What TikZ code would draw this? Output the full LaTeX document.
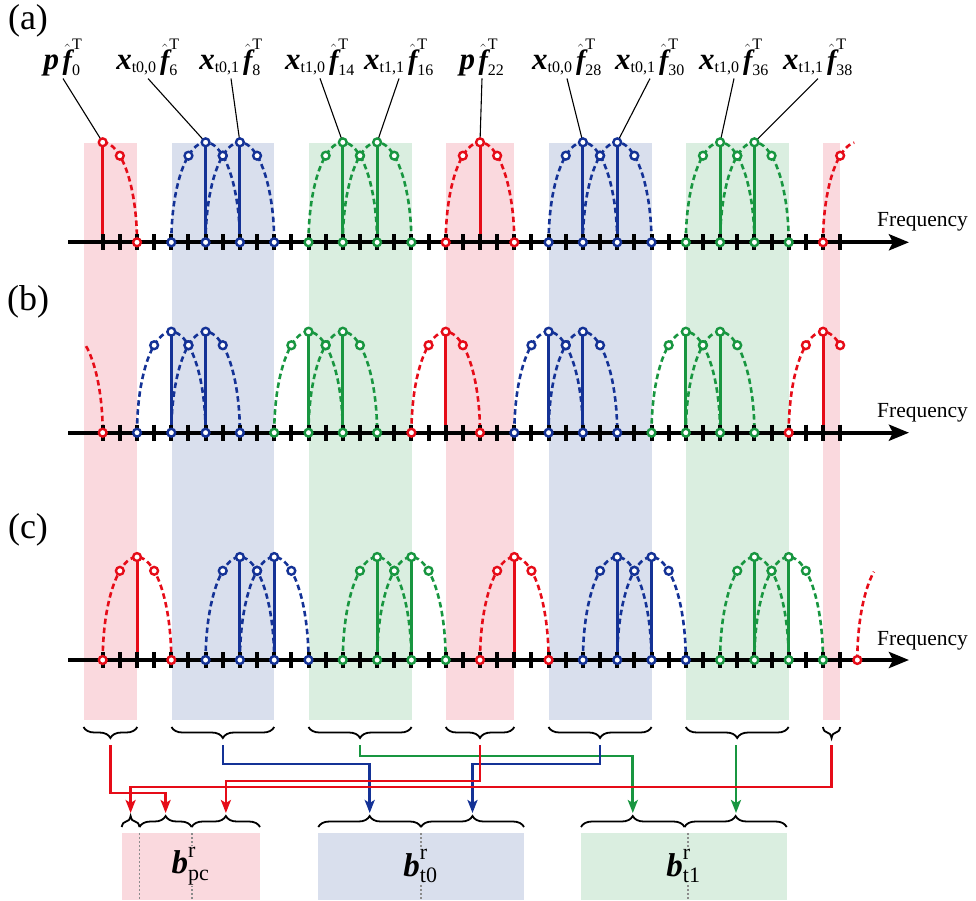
\documentclass[tikz,border=0pt]{standalone}
\usepackage[no-math]{fontspec}
\usepackage{amsmath}
\setmainfont{Liberation Serif}
\usetikzlibrary{arrows.meta,decorations.pathreplacing}
\definecolor{cR}{RGB}{230,12,24}
\definecolor{cB}{RGB}{20,50,150}
\definecolor{cG}{RGB}{24,150,64}
\definecolor{sR}{RGB}{250,217,222}
\definecolor{sB}{RGB}{217,223,237}
\definecolor{sG}{RGB}{218,238,224}
\definecolor{dotgray}{RGB}{140,140,140}

\newcommand\XX[1]{(102.7+17.15*(#1))}
\newcommand\lobe[6]{\draw[lobeline,#1] plot[domain=#5:#6,samples=40,variable=\ang] ({\XX{#2}+34.3*cos(\ang)},{#3+#4*sin(\ang)});}
\newcommand\stem[4]{\draw[stemline,#1] ({\XX{#2}},#3) -- ({\XX{#2}},{#3-#4});}
\newcommand\dotc[4]{\draw[dotline,draw=#1] ({\XX{#2}},{#3-(#4)}) circle[radius=3.9];}
\newcommand\full[4]{\lobe{#1}{#2}{#3}{#4}{180}{360}\stem{#1}{#2}{#3}{#4}}
\newcommand\fullc[4]{\dotc{#1}{#2-2}{#3}{0}\dotc{#1}{#2-1}{#3}{0.866*#4}\dotc{#1}{#2}{#3}{#4}\dotc{#1}{#2+1}{#3}{0.866*#4}\dotc{#1}{#2+2}{#3}{0}}
\newcommand\axisrow[1]{\draw[axisline] ({\XX{-2}},#1) -- (909,#1);
  \foreach \k in {0,...,43} {\draw[tickline] ({\XX{\k}},{#1-8}) -- ({\XX{\k}},{#1+8});}}
\newcommand\BI[2]{\text{\fontsize{#1}{#1}\selectfont\bfseries\itshape #2}}
\newcommand\SM[1]{\text{\fontsize{16}{16}\selectfont #1}}
\newcommand\SB[1]{\text{\fontsize{22}{22}\selectfont #1}}
\newcommand\flab[3]{$\BI{31}{#1}_{\SM{#2}}\,\hat{\BI{28}{f}}^{\SM{T}}_{\SM{#3}}$}
\newcommand\plab[1]{$\BI{31}{p}\,\hat{\BI{28}{f}}^{\SM{T}}_{\SM{#1}}$}
\newcommand\blab[1]{$\BI{33}{b}^{\SB{r}}_{\SB{#1}}$}

\tikzset{
  lobeline/.style={line width=2.6pt, dash pattern=on 5.5pt off 3.5pt},
  stemline/.style={line width=3pt},
  dotline/.style={line width=2.4pt, fill=white},
  axisline/.style={line width=4.2pt, -{Stealth[length=20pt,width=16pt,inset=4pt]}},
  tickline/.style={line width=4pt},
  leader/.style={line width=1.1pt},
  conn/.style={line width=2.8pt, -{Stealth[length=13pt,width=10pt,inset=3pt]}},
  brc/.style={decorate, decoration={brace, amplitude=11pt}, line width=1.8pt},
  brcm/.style={decorate, decoration={brace, mirror, amplitude=11pt}, line width=1.8pt},
  lab/.style={font=\fontsize{22}{24}\selectfont, anchor=base, inner sep=2.5pt},
  freq/.style={font=\fontsize{21.5}{23}\selectfont, anchor=base west, inner sep=0pt},
  panel/.style={font=\fontsize{36}{38}\selectfont},
  bx/.style={draw=none, inner sep=0pt},
  blabst/.style={font=\fontsize{26}{28}\selectfont, inner sep=1pt},
  dotv/.style={dotgray, line width=1.8pt, dash pattern=on 2pt off 2pt},
}

\begin{document}
\begin{tikzpicture}[x=1pt,y=-1pt]
\useasboundingbox (0,0) rectangle (976,900);
% shade columns
\fill[sR] (83.5,142.7) rectangle (137.3,720);
\fill[sB] (171.5,142.7) rectangle (274.2,720);
\fill[sG] (308.5,142.7) rectangle (411.6,720);
\fill[sR] (445.7,142.7) rectangle (514.3,720);
\fill[sB] (548.5,142.7) rectangle (651.6,720);
\fill[sG] (685.8,142.7) rectangle (788.6,720);
\fill[sR] (822.9,142.7) rectangle (840.2,720);

% panel labels
\node[panel] (pa) at (28,21) {(a)};
\node[panel] (pb) at (28,302) {(b)};
\node[panel] (pc) at (28,530) {(c)};

% ---------------- panel (a)
\foreach \ci/\co in {6/cB,8/cB,14/cG,16/cG,22/cR,28/cB,30/cB,36/cG,38/cG} {\full{\co}{\ci}{242.3}{100}}
\lobe{cR}{0}{242.3}{100}{270}{360}\stem{cR}{0}{242.3}{100}
\lobe{cR}{44}{242.3}{100}{180}{265}

% labels (a)
\node[lab] (la0)  at (63,69)  {\plab{0}};
\node[lab] (la6)  at (148,69) {\flab{x}{t0,0}{6}};
\node[lab] (la8)  at (231,69) {\flab{x}{t0,1}{8}};
\node[lab] (la14) at (320,69) {\flab{x}{t1,0}{14}};
\node[lab] (la16) at (399,69) {\flab{x}{t1,1}{16}};
\node[lab] (la22) at (482,69) {\plab{22}};
\node[lab] (la28) at (567,69) {\flab{x}{t0,0}{28}};
\node[lab] (la30) at (650,69) {\flab{x}{t0,1}{30}};
\node[lab] (la36) at (734,69) {\flab{x}{t1,0}{36}};
\node[lab] (la38) at (818,69) {\flab{x}{t1,1}{38}};
\foreach \k in {0,6,8,14,16,22,28,30,36,38} {\coordinate (pk\k) at ({\XX{\k}},142.3);}
\foreach \k in {0,6,8,14,16,22,28,30,36,38} {\draw[leader] (la\k.south) -- (pk\k);}

\axisrow{242.3}
\foreach \ci/\co in {6/cB,8/cB,14/cG,16/cG,22/cR,28/cB,30/cB,36/cG,38/cG} {\fullc{\co}{\ci}{242.3}{100}}
\dotc{cR}{0}{242.3}{100}\dotc{cR}{1}{242.3}{86.6}\dotc{cR}{2}{242.3}{0}
\dotc{cR}{42}{242.3}{0}\dotc{cR}{43}{242.3}{86.6}
\node[freq] (fa) at (877,226) {Frequency};

% ---------------- panel (b)
\foreach \ci/\co in {4/cB,6/cB,12/cG,14/cG,20/cR,26/cB,28/cB,34/cG,36/cG} {\full{\co}{\ci}{432.7}{101}}
\lobe{cR}{-2}{432.7}{101}{301}{360}
\lobe{cR}{42}{432.7}{101}{180}{300}\stem{cR}{42}{432.7}{101}
\axisrow{432.7}
\foreach \ci/\co in {4/cB,6/cB,12/cG,14/cG,20/cR,26/cB,28/cB,34/cG,36/cG} {\fullc{\co}{\ci}{432.7}{101}}
\dotc{cR}{0}{432.7}{0}
\dotc{cR}{40}{432.7}{0}\dotc{cR}{41}{432.7}{87.5}\dotc{cR}{42}{432.7}{101}\dotc{cR}{43}{432.7}{87.5}
\node[freq] (fb) at (877,417) {Frequency};

% ---------------- panel (c)
\foreach \ci/\co in {2/cR,8/cB,10/cB,16/cG,18/cG,24/cR,30/cB,32/cB,38/cG,40/cG} {\full{\co}{\ci}{660}{103}}
\lobe{cR}{46}{660}{103}{180}{239}
\axisrow{660}
\foreach \ci/\co in {2/cR,8/cB,10/cB,16/cG,18/cG,24/cR,30/cB,32/cB,38/cG,40/cG} {\fullc{\co}{\ci}{660}{103}}
\dotc{cR}{44}{660}{0}
\node[freq] (fc) at (877,645) {Frequency};

% ---------------- top braces
\draw[brcm] (83.5,727) -- (137.3,727);
\draw[brcm] (171.5,727) -- (274.2,727);
\draw[brcm] (308.5,727) -- (411.6,727);
\draw[brcm] (445.7,727) -- (514.3,727);
\draw[brcm] (548.5,727) -- (651.6,727);
\draw[brcm] (685.8,727) -- (788.6,727);
\draw[brcm] (822.9,727) -- (840.2,727);
\coordinate (u1) at (110.4,745);
\coordinate (u2) at (222.9,745);
\coordinate (u3) at (360.0,745);
\coordinate (u4) at (480.0,745);
\coordinate (u5) at (600.0,745);
\coordinate (u6) at (736.0,745);
\coordinate (u7) at (831.5,745);

% ---------------- bottom boxes
\node[bx, fill=sR, minimum width=138.3pt, minimum height=67pt] (Bpc) at (190.85,866.5) {};
\node[bx, fill=sB, minimum width=205.7pt, minimum height=67pt] (Bt0) at (421.15,866.5) {};
\node[bx, fill=sG, minimum width=205.7pt, minimum height=67pt] (Bt1) at (683.85,866.5) {};
\draw[dotv] (139.5,833) -- (139.5,900);
\draw[dotv] (191.7,833) -- (191.7,900);
\draw[dotv] (421,833) -- (421,900);
\draw[dotv] (688,833) -- (688,900);
\node[blabst, fill=sR] (Lpc) at (190.5,866) {\blab{pc}};
\node[blabst, fill=sB] (Lt0) at (420.5,866) {\blab{t0}};
\node[blabst, fill=sG] (Lt1) at (683.5,866) {\blab{t1}};

% bottom braces
\draw[brc] (121.7,827) -- (139.5,827);
\draw[brc] (139.5,827) -- (191.7,827);
\draw[brc] (191.7,827) -- (260,827);
\draw[brc] (318.3,827) -- (421,827);
\draw[brc] (421,827) -- (524,827);
\draw[brc] (581,827) -- (684.5,827);
\draw[brc] (684.5,827) -- (786.7,827);
\coordinate (v1) at (130.6,813);
\coordinate (v2) at (165.6,813);
\coordinate (v3) at (225.9,813);
\coordinate (v4) at (369.7,813);
\coordinate (v5) at (472.5,813);
\coordinate (v6) at (632.8,813);
\coordinate (v7) at (736.0,813);

% route levels
\coordinate (hG) at (0,756);
\coordinate (hB) at (0,764);
\coordinate (hR4) at (0,781);
\coordinate (hR7) at (0,787);
\coordinate (hR1) at (0,793);

% connectors
\draw[conn,cG] (u3) -- (u3 |- hG) -| (v6);
\draw[conn,cG] (u6) -- (v7);
\draw[conn,cB] (u2) -- (u2 |- hB) -| (v4);
\draw[conn,cB] (u5) -- (u5 |- hB) -| (v5);
\draw[conn,cR] (u4) -- (u4 |- hR4) -| (v3);
\draw[conn,cR] (u7) -- (u7 |- hR7) -| (v1);
\draw[conn,cR] (u1) -- (u1 |- hR1) -| (v2);
\end{tikzpicture}
\end{document}
